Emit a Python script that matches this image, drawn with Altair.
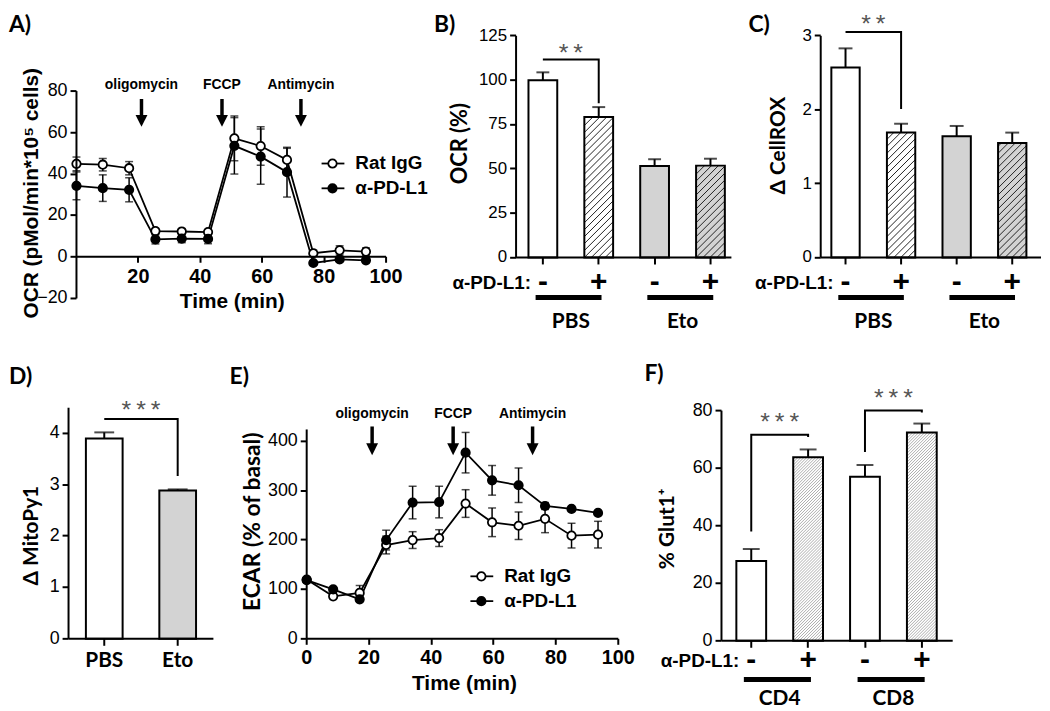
import json
import altair as alt
import pandas as pd

# ---------------- data ----------------
time_min = [0, 8.5, 17, 25.5, 34, 42.5, 51, 59.5, 68, 76.5, 85, 93.5]
series_names = ["Rat IgG", "α-PD-L1"]
injection_names = ["oligomycin", "FCCP", "Antimycin"]
injection_time = [21, 47, 72.5]

ocr_rat = [44.9, 44.5, 42.8, 12.5, 12.3, 12.0, 57.2, 53.5, 46.8, 1.8, 3.2, 2.6]
ocr_rat_err = [3.3, 3.0, 3.2, 1.2, 1.2, 1.2, 10.8, 9.3, 5.6, 1.5, 2.2, 1.8]
ocr_pdl1 = [34.3, 33.2, 32.4, 8.5, 8.9, 8.7, 53.6, 48.4, 40.9, -2.9, -1.2, -1.6]
ocr_pdl1_err = [6.7, 6.4, 5.8, 2.2, 2.0, 2.3, 13.6, 13.3, 12.0, 1.0, 0.8, 0.8]

ecar_rat = [120, 86, 93, 190, 200, 204, 274, 236, 229, 243, 209, 211]
ecar_rat_err = [4, 4, 15, 18, 17, 17, 28, 29, 28, 28, 25, 27]
ecar_pdl1 = [119, 100, 80, 200, 276, 277, 377, 321, 311, 269, 263, 255]
ecar_pdl1_err = [4, 4, 4, 20, 33, 32, 41, 30, 35, 7, 3, 3]

pdl1_signs = ["-", "+", "-", "+"]
ocr_groups = ["PBS", "PBS", "Eto", "Eto"]
ocr_pct = [100.0, 79.2, 51.6, 51.8]
ocr_pct_err = [4.4, 5.6, 3.8, 3.9]
cellrox = [2.57, 1.69, 1.64, 1.55]
cellrox_err = [0.26, 0.12, 0.14, 0.14]
mito_groups = ["PBS", "Eto"]
mitopy = [3.90, 2.89]
mitopy_err = [0.12, 0.02]
glut_groups = ["CD4", "CD4", "CD8", "CD8"]
glut1 = [27.7, 63.8, 57.0, 72.4]
glut1_err = [4.2, 2.7, 4.1, 3.1]

# significance brackets: (left bar, right bar, left end, top, right end, stars)
ocr_sig = [(1, 2, 111.6, 111.6, 87.0, "**")]
cellrox_sig = [(1, 2, 3.05, 3.05, 2.01, "**")]
mito_sig = [(1, 2, 4.28, 4.28, 3.17, "***")]
glut_sig = [(1, 2, 38.0, 71.6, 70.8, "***"), (3, 4, 65.6, 80.0, 79.3, "***")]

# ---------------- layout / style ----------------
W, H = 1042, 703
ARIAL = "Liberation Sans"
CAL = "Lato"
GRAY = "#d3d3d3"
INK = "black"


def P(v):
    return v - 8


AX = dict(grid=False, domainColor="black", domainWidth=2, tickColor="black", tickWidth=2,
          labelColor=INK, titleColor=INK, labelFlush=False, labelOverlap=False, labelBound=False,
          zindex=1, translate=0)


def y_axis(axis_x, values, title, title_c, font, fsize, label_size):
    return alt.Axis(orient="left", offset=-P(axis_x), values=values, tickSize=6, labelPadding=3,
                    labelFont=ARIAL, labelFontSize=label_size, title=title, titleFont=font,
                    titleFontWeight="bold", titleFontSize=fsize, titleAngle=270,
                    titleX=title_c[0] - axis_x, titleY=P(title_c[1]), titleAlign="center",
                    titleBaseline="middle", **AX)


def line_panel(rat, rat_err, pd1, pd1_err, g):
    n = len(time_min)
    df = pd.DataFrame({"time": time_min * 2, "value": rat + pd1, "err": rat_err + pd1_err,
                       "series": [series_names[0]] * n + [series_names[1]] * n})
    xs = alt.Scale(domain=[0, 100], range=[P(g["x0"]), P(g["x1"])], nice=False, zero=False)
    ys = alt.Scale(domain=g["ydom"], range=[P(g["y0"]), P(g["y1"])], nice=False, zero=False)

    def XX(f, axis=None):
        return alt.X(f, scale=xs, axis=axis)

    def YY(f, axis=None):
        return alt.Y(f, scale=ys, axis=axis)

    xaxis = alt.Axis(orient="bottom", offset=P(g["xaxis_y"]) - H, values=g["xticks"], tickSize=6,
                     labelBaseline="middle", labelPadding=g["xlab_y"] - g["xaxis_y"] - 6,
                     labelFont=ARIAL, labelFontWeight="bold", labelFontSize=20,
                     title="Time (min)", titleFont=ARIAL, titleFontWeight="bold", titleFontSize=21,
                     titleX=P(g["xtitle"][0]), titleY=g["xtitle"][1] - g["xaxis_y"],
                     titleAlign="center", titleBaseline="middle", **AX)
    yaxis = y_axis(g["x0"], g["yticks"], g["ytitle"], g["ytitle_c"], g["ytitle_font"],
                   g["ytitle_size"], 18)
    base = alt.Chart(df).transform_calculate(lo="datum.value - datum.err",
                                             hi="datum.value + datum.err")
    fill = alt.Fill("series:N", scale=alt.Scale(domain=series_names, range=["white", "black"]),
                    legend=None)
    out = []
    out.append(base.mark_line(color="black", strokeWidth=1.8).encode(
        x=XX("time:Q", xaxis), y=YY("value:Q", yaxis), detail="series:N"))
    out.append(base.mark_rule(color="black", strokeWidth=1.5).encode(
        x=XX("time:Q"), y=YY("lo:Q"), y2="hi:Q"))
    for f in ("lo:Q", "hi:Q"):
        out.append(base.mark_tick(orient="horizontal", color="black", size=8,
                                  thickness=1.5).encode(x=XX("time:Q"), y=YY(f)))
    out.append(base.mark_point(filled=True, size=72, stroke="black", strokeWidth=1.8,
                               opacity=1).encode(x=XX("time:Q"), y=YY("value:Q"), fill=fill))

    inj = alt.Chart(pd.DataFrame({"name": injection_names, "time": injection_time}))
    out.append(inj.mark_text(font=ARIAL, fontWeight="bold", fontSize=14, baseline="middle",
                             color=INK).encode(x=XX("time:Q"), y=alt.value(P(g["inj_text"])),
                                               text="name:N"))
    out.append(inj.mark_rule(color="black", strokeWidth=3.5).encode(
        x=XX("time:Q"), y=alt.value(P(g["inj_top"])), y2=alt.value(P(g["inj_head"] - 3))))
    out.append(inj.mark_point(shape="M-1,-1L1,-1L0,1Z", filled=True, color="black", size=144,
                              opacity=1).encode(x=XX("time:Q"), y=alt.value(P(g["inj_head"]))))

    lx = g["leg_x"]
    leg = alt.Chart(pd.DataFrame({"series": series_names,
                                  "row": list(range(len(series_names)))})).transform_calculate(
        ly=f"{P(g['leg_y'])} + datum.row * {g['leg_dy']}")
    LY = alt.Y("ly:Q", scale=None, axis=None)
    out.append(leg.mark_rule(color="black", strokeWidth=1.8).encode(
        x=alt.value(P(lx - 11)), x2=alt.value(P(lx + 12)), y=LY))
    out.append(leg.mark_point(filled=True, size=72, stroke="black", strokeWidth=1.8,
                              opacity=1).encode(x=alt.value(P(lx)), y=LY, fill=fill))
    out.append(leg.mark_text(align="left", baseline="middle", font=ARIAL, fontWeight="bold",
                             fontSize=19, color=INK).encode(x=alt.value(P(lx + 23)), y=LY,
                                                            text="series:N"))
    return out


def bar_panel(groups, values, errs, sig, g, signs=None):
    n = len(values)
    idx = list(range(1, n + 1))
    df = pd.DataFrame({"idx": idx, "group": groups, "value": values, "err": errs})
    step, hw = g["step"], g["hw"]
    lo = 1 - (g["c1"] - g["axis_x"]) / step
    hi = 1 + (g["x_end"] - g["c1"]) / step
    xs = alt.Scale(domain=[lo, hi], range=[P(g["axis_x"]), P(g["x_end"])], nice=False, zero=False)
    ys = alt.Scale(domain=g["ydom"], range=[P(g["y0"]), P(g["ytop"])], nice=False, zero=False)

    def XX(f, axis=None):
        return alt.X(f, scale=xs, axis=axis)

    def YY(f, axis=None):
        return alt.Y(f, scale=ys, axis=axis)

    if signs:
        labels, lfont, lsize = signs, ARIAL, 30
    else:
        labels, lfont, lsize = groups, CAL, 21
    xaxis = alt.Axis(orient="bottom", offset=P(g["y0"]) - H, values=idx, tickSize=7,
                     labelExpr=f"{json.dumps(labels)}[datum.value - 1]", labelBaseline="middle",
                     labelPadding=g["lab_y"] - g["y0"] - 7, labelFont=lfont,
                     labelFontWeight="bold", labelFontSize=lsize, title="", **AX)
    yaxis = y_axis(g["axis_x"], g["yticks"], g["ytitle"], g["ytitle_c"], CAL, g["tsize"],
                   g["ylab"])
    base = alt.Chart(df).transform_calculate(l=f"datum.idx - {hw}", r=f"datum.idx + {hw}",
                                             top="datum.value + datum.err")
    fillenc = alt.Fill("group:N", scale=alt.Scale(domain=g["fill_dom"], range=g["fill_rng"]),
                       legend=None)
    out = [base.mark_bar(strokeWidth=0).encode(
        x=XX("l:Q", xaxis), x2="r:Q", y=YY("value:Q", yaxis), y2=alt.datum(0), fill=fillenc)]

    if signs:
        ppy = (g["y0"] - g["ytop"]) / (g["ydom"][1] - g["ydom"][0])
        wp = 2 * hw * step
        sp = g["hatch_sp"]
        segs = []
        for i, v, s in zip(idx, values, signs):
            if s != "+":
                continue
            hp = v * ppy
            k = -int(wp // sp)
            while k * sp < hp:
                c = k * sp
                u0, w0 = max(0.0, -c), max(0.0, c)
                u1, w1 = min(wp, hp - c), min(wp + c, hp)
                if u1 > u0:
                    segs.append({"hx": i - hw + u0 / step, "hy": w0 / ppy,
                                 "hx2": i - hw + u1 / step, "hy2": w1 / ppy})
                k += 1
        out.append(alt.Chart(pd.DataFrame(segs)).mark_rule(
            color=g["hatch_color"], strokeWidth=g["hatch_w"]).encode(
            x=XX("hx:Q"), x2="hx2:Q", y=YY("hy:Q"), y2="hy2:Q"))

    out.append(base.mark_rule(color="black", strokeWidth=2).encode(
        x=XX("idx:Q"), y=YY("value:Q"), y2="top:Q"))
    out.append(base.mark_bar(fillOpacity=0, stroke="black", strokeWidth=2).encode(
        x=XX("l:Q"), x2="r:Q", y=YY("value:Q"), y2=alt.datum(0)))
    out.append(base.mark_tick(orient="horizontal", color="black", size=g["cap"],
                              thickness=2).encode(x=XX("idx:Q"), y=YY("top:Q")))

    rows, srows = [], []
    for j, (a, b, le, t, rend, lab) in enumerate(sig):
        for k, (xx, yy) in enumerate([(a, le), (a, t), (b, t), (b, rend)]):
            rows.append({"id": j, "k": k, "bx": xx, "by": yy})
        srows.append({"mx": (a + b) / 2, "ty": t, "lab": "\u2009".join(lab)})
    out.append(alt.Chart(pd.DataFrame(rows)).mark_line(color="black", strokeWidth=2).encode(
        x=XX("bx:Q"), y=YY("by:Q"), detail="id:N", order="k:Q"))
    out.append(alt.Chart(pd.DataFrame(srows)).mark_text(
        font=ARIAL, fontSize=25, color="#555", baseline="middle",
        dy=-g["star_dist"] + 7).encode(x=XX("mx:Q"), y=YY("ty:Q"), text="lab:N"))

    if signs:
        out.append(alt.Chart(df).transform_filter("datum.idx == 1").mark_text(
            text="α-PD-L1:", align="right", baseline="middle", font=ARIAL, fontWeight="bold",
            fontSize=19, dx=-12, color=INK).encode(x=XX("idx:Q"), y=alt.value(P(g["lab_y"] + 1))))
        gb = alt.Chart(df).transform_aggregate(
            a="min(idx)", b="max(idx)", m="mean(idx)", groupby=["group"]).transform_calculate(
            a2="datum.a - 0.13", b2="datum.b + 0.05")
        out.append(gb.mark_rule(color="black", strokeWidth=5).encode(
            x=XX("a2:Q"), x2="b2:Q", y=alt.value(P(g["under_y"]))))
        out.append(gb.mark_text(font=CAL, fontWeight="bold", fontSize=21, baseline="middle",
                                color=INK).encode(x=XX("m:Q"), y=alt.value(P(g["group_y"])),
                                                  text="group:N"))
    return out


panelA = line_panel(ocr_rat, ocr_rat_err, ocr_pdl1, ocr_pdl1_err, dict(
    x0=77, x1=389, ydom=[-20, 80], y0=298, y1=89, xaxis_y=256, xlab_y=276,
    xticks=[20, 40, 60, 80, 100], yticks=[-20, 0, 20, 40, 60, 80],
    xtitle=(234, 302), ytitle="OCR (pMol/min*10⁵ cells)", ytitle_c=(32, 192),
    ytitle_font=ARIAL, ytitle_size=21, inj_text=83, inj_top=97, inj_head=119,
    leg_x=335, leg_y=162, leg_dy=25))

panelE = line_panel(ecar_rat, ecar_rat_err, ecar_pdl1, ecar_pdl1_err, dict(
    x0=309, x1=623, ydom=[0, 424], y0=641, y1=430, xaxis_y=641, xlab_y=660,
    xticks=[0, 20, 40, 60, 80, 100], yticks=[0, 100, 200, 300, 400],
    xtitle=(468, 687), ytitle="ECAR (% of basal)", ytitle_c=(255, 523),
    ytitle_font=CAL, ytitle_size=23, inj_text=414, inj_top=427, inj_head=450,
    leg_x=485, leg_y=578, leg_dy=25))

panelB = bar_panel(ocr_groups, ocr_pct, ocr_pct_err, ocr_sig, dict(
    axis_x=520, c1=547, step=56.3, x_end=737, hw=0.2575, ydom=[0, 125], y0=256.7, ytop=33.3,
    yticks=[0, 25, 50, 75, 100, 125], ytitle="OCR (%)", ytitle_c=(464, 142), ylab=17, tsize=22,
    fill_dom=["PBS", "Eto"], fill_rng=["white", GRAY], hatch_sp=7, hatch_color="#222",
    hatch_w=1, cap=13, lab_y=281, under_y=297, group_y=322, star_dist=14), signs=pdl1_signs)

panelC = bar_panel(ocr_groups, cellrox, cellrox_err, cellrox_sig, dict(
    axis_x=827, c1=852, step=56, x_end=1049, hw=0.255, ydom=[0, 3], y0=256.7, ytop=33.3,
    yticks=[0, 1, 2, 3], ytitle="Δ CellROX", ytitle_c=(785, 144), ylab=17, tsize=21,
    fill_dom=["PBS", "Eto"], fill_rng=["white", GRAY], hatch_sp=7, hatch_color="#222",
    hatch_w=1, cap=14, lab_y=281, under_y=297, group_y=322, star_dist=15), signs=pdl1_signs)

panelD = bar_panel(mito_groups, mitopy, mitopy_err, mito_sig, dict(
    axis_x=69, c1=105, step=74, x_end=215, hw=0.25, ydom=[0, 4.5], y0=641, ytop=408.1,
    yticks=[0, 1, 2, 3, 4], ytitle="Δ MitoPy1", ytitle_c=(32, 537), ylab=18, tsize=21,
    fill_dom=["PBS", "Eto"], fill_rng=["white", GRAY], cap=20, lab_y=663, star_dist=16))

panelF = bar_panel(glut_groups, glut1, glut1_err, glut_sig, dict(
    axis_x=727, c1=757, step=57.3, x_end=960, hw=0.262, ydom=[0, 80], y0=643, ytop=411,
    yticks=[0, 20, 40, 60, 80], ytitle="% Glut1⁺", ytitle_c=(673, 530), ylab=18, tsize=21,
    fill_dom=["CD4", "CD8"], fill_rng=["white", "white"], hatch_sp=3, hatch_color="#8a8a8a",
    hatch_w=0.7, cap=17, lab_y=662, under_y=682, group_y=702, star_dist=20), signs=pdl1_signs)


def letter(t, x, y, align):
    return alt.Chart(pd.DataFrame({"t": [t]})).mark_text(
        font=CAL, fontWeight="bold", fontSize=23, align=align, baseline="top",
        color=INK).encode(x=alt.value(P(x)), y=alt.value(P(y)), text="t:N")


letters = [letter("A)", 9, 11, "left"), letter("B)", 448, 11, "center"),
           letter("C)", 765, 11, "center"), letter("D)", 9, 366, "left"),
           letter("E)", 241, 366, "center"), letter("F)", 659, 363, "center")]

chart = alt.layer(*panelA, *panelB, *panelC, *panelD, *panelE, *panelF, *letters).resolve_scale(
    x="independent", y="independent", fill="independent").properties(
    width=W, height=H, autosize=alt.AutoSizeParams(type="none"), padding=0
).configure(font=ARIAL).configure_view(strokeWidth=0)

chart.save("out.html", embed_options={"renderer": "svg", "actions": False})
